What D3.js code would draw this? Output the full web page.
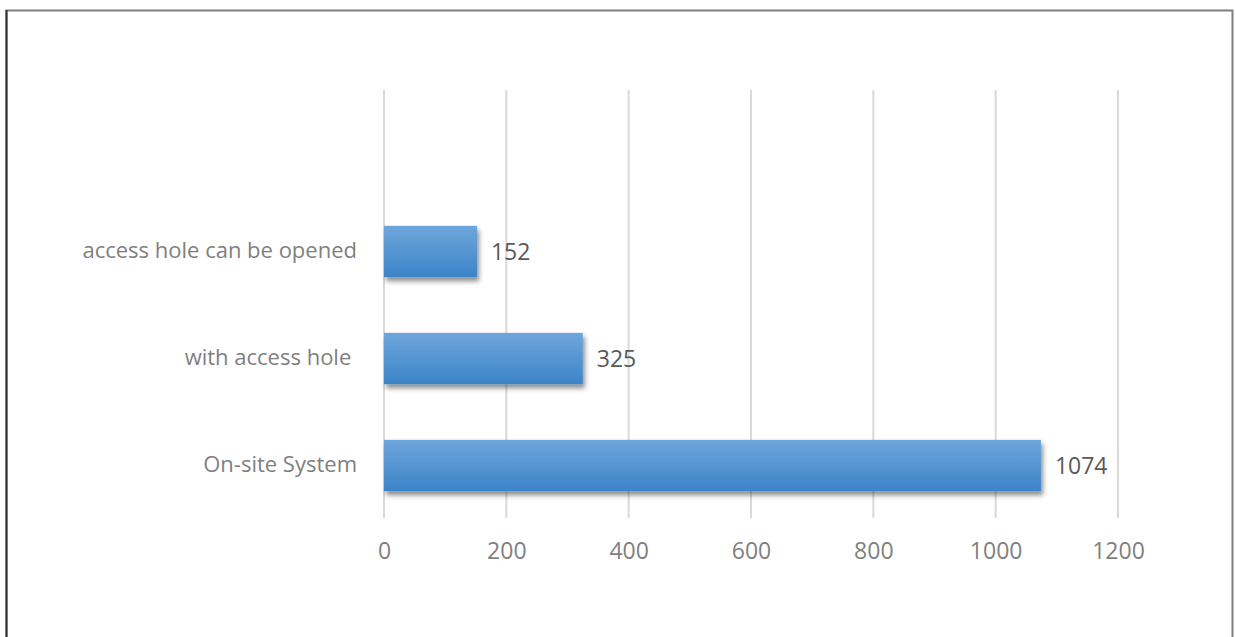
<!DOCTYPE html>
<html><head><meta charset="utf-8">
<script src="https://cdn.jsdelivr.net/npm/d3@7"></script>
<style>body{margin:0;background:#fff}svg{display:block}</style>
</head><body>
<script>
const categories = ["access hole can be opened", "with access hole ", "On-site System"];
const values = [152, 325, 1074];
const xTicks = [0, 200, 400, 600, 800, 1000, 1200];

const W = 1235, H = 637;
const svg = d3.select("body").append("svg").attr("width", W).attr("height", H);
const defs = svg.append("defs");
const grad = defs.append("linearGradient").attr("id", "g").attr("x1", 0).attr("y1", 0).attr("x2", 0).attr("y2", 1);
grad.append("stop").attr("offset", "0%").attr("stop-color", "#6fa6dc");
grad.append("stop").attr("offset", "100%").attr("stop-color", "#3c84c8");
const f = defs.append("filter").attr("id", "sh").attr("x", "-10%").attr("y", "-20%").attr("width", "130%").attr("height", "160%");
f.append("feDropShadow").attr("dx", 2).attr("dy", 4).attr("stdDeviation", 2.5).attr("flood-color", "#000").attr("flood-opacity", 0.45);

// border
svg.append("rect").attr("x", 6.5).attr("y", 10.5).attr("width", 1226).attr("height", 640)
  .attr("fill", "none").attr("stroke", "#7f7f7f").attr("stroke-width", 2);
svg.append("line").attr("x1", 6.5).attr("x2", 6.5).attr("y1", 10).attr("y2", H).attr("stroke", "#333").attr("stroke-width", 2);

const plotTop = 90, plotBottom = 518;
const x = d3.scaleLinear().domain([0, 1200]).range([384, 1118]);
const y = d3.scaleBand().domain(categories).range([plotBottom + 1 - 3 * 107, plotBottom + 1]).paddingInner(0.52).paddingOuter(0.26);

const font = "'Open Sans', Calibri, sans-serif";
svg.append("g").selectAll("line").data(xTicks).join("line")
  .attr("x1", d => x(d)).attr("x2", d => x(d)).attr("y1", plotTop).attr("y2", plotBottom)
  .attr("stroke", "#d9d9d9").attr("stroke-width", 2);

const xAxis = svg.append("g").attr("transform", `translate(0,${plotBottom})`)
  .call(d3.axisBottom(x).tickValues(xTicks).tickFormat(d3.format("d")).tickSize(0).tickPadding(25));
xAxis.select(".domain").remove();
xAxis.selectAll("text").attr("font-family", font).attr("font-size", 23).attr("fill", "#7f7f7f");

const yAxis = svg.append("g").attr("transform", `translate(357,0)`)
  .call(d3.axisLeft(y).tickSize(0).tickPadding(0));
yAxis.select(".domain").remove();
yAxis.selectAll("text").attr("font-family", font).attr("font-size", 22).attr("fill", "#7f7f7f").attr("dy", "0.3em")
  .style("white-space", "pre");

svg.append("g").selectAll("rect").data(values).join("rect")
  .attr("x", x(0)).attr("y", (d, i) => y(categories[i]))
  .attr("width", d => x(d) - x(0)).attr("height", y.bandwidth())
  .attr("fill", "url(#g)").attr("filter", "url(#sh)");

svg.append("g").selectAll("text").data(values).join("text")
  .attr("x", d => x(d) + 14).attr("y", (d, i) => y(categories[i]) + y.bandwidth() / 2)
  .attr("dy", "0.38em").attr("font-family", font).attr("font-size", 23).attr("fill", "#595959")
  .text(d => d);
</script>
</body></html>
